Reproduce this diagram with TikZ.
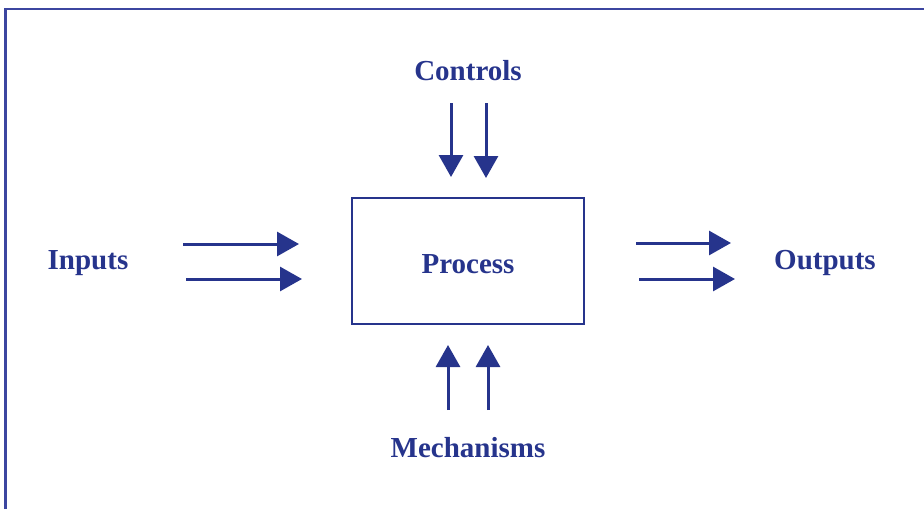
\documentclass[tikz,border=0pt]{standalone}
\usepackage{fontspec}
\setmainfont{Liberation Serif}
\usetikzlibrary{arrows.meta}
\definecolor{navy}{RGB}{38,52,140}
\definecolor{framec}{RGB}{60,70,160}
\begin{document}
\begin{tikzpicture}[x=1pt,y=-1pt,
  lbl/.style={text=navy,font=\fontsize{29}{35}\selectfont\bfseries,inner sep=0pt},
  flow/.style={draw=navy,line width=3pt,-{Triangle[length=22pt,width=24pt]}},
  procbox/.style={draw=navy,line width=2.5pt,minimum width=232pt,minimum height=126pt,inner sep=0pt}]
\useasboundingbox (0,0) rectangle (924,509);
\draw[framec,line width=2.8pt] (5.5,509) -- (5.5,9) -- (924,9);
\node[procbox] (proc) at (468,261) {};
\node[lbl] (proct) at (468,264) {Process};
\node[lbl] (inp) at (88,263) {Inputs};
\node[lbl] (outp) at (825,263) {Outputs};
\node[lbl] (ctrl) at (468,71) {Controls};
\node[lbl] (mech) at (468,448) {Mechanisms};
% input arrows
\coordinate (i1s) at (183,244); \coordinate (i1e) at (299,244);
\coordinate (i2s) at (186,279); \coordinate (i2e) at (302,279);
\draw[flow] (i1s) -- (i1e);
\draw[flow] (i2s) -- (i2e);
% output arrows
\coordinate (o1s) at (636,243); \coordinate (o1e) at (731,243);
\coordinate (o2s) at (639,279); \coordinate (o2e) at (735,279);
\draw[flow] (o1s) -- (o1e);
\draw[flow] (o2s) -- (o2e);
% control arrows
\coordinate (c1s) at (451,103); \coordinate (c1e) at (451,177);
\coordinate (c2s) at (486,103); \coordinate (c2e) at (486,178);
\draw[flow] (c1s) -- (c1e);
\draw[flow] (c2s) -- (c2e);
% mechanism arrows
\coordinate (m1s) at (448,410); \coordinate (m1e) at (448,345);
\coordinate (m2s) at (488,410); \coordinate (m2e) at (488,345);
\draw[flow] (m1s) -- (m1e);
\draw[flow] (m2s) -- (m2e);
\end{tikzpicture}
\end{document}
